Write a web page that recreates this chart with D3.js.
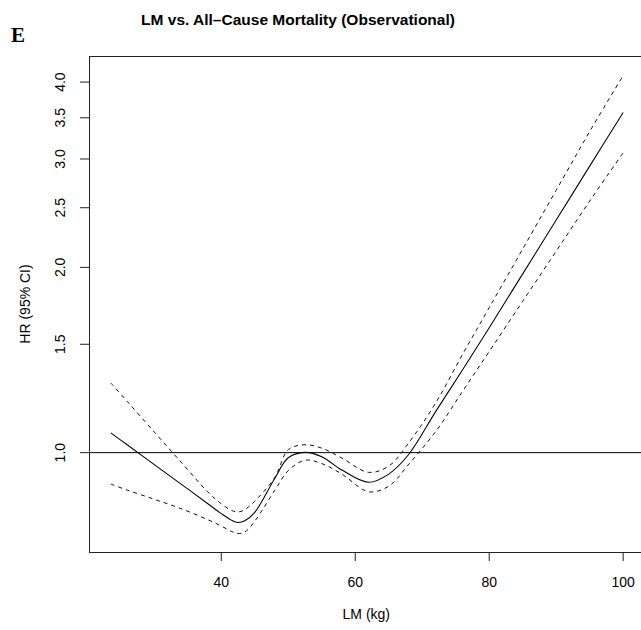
<!DOCTYPE html>
<html>
<head>
<meta charset="utf-8">
<script src="https://cdn.jsdelivr.net/npm/d3@7.9.0/dist/d3.min.js"></script>
<style>
  html, body { margin: 0; padding: 0; background: #fff; }
  svg { display: block; font-family: "Liberation Sans", Arial, sans-serif; }
</style>
</head>
<body>
<div id="chart"></div>
<script>
const lm = [23.5, 26, 30, 34, 38, 40, 41.5, 42.5, 43.5, 45, 48, 50, 52.5, 55, 58, 62, 65, 68, 72, 76, 80, 85, 90, 95, 100];
// hazard ratio estimate
const hr = [1.077, 1.029, 0.956, 0.889, 0.826, 0.796, 0.777, 0.770, 0.775, 0.800, 0.909, 0.981, 1.001, 0.985, 0.937, 0.895, 0.923, 0.994, 1.166, 1.362, 1.596, 1.952, 2.387, 2.921, 3.57];
// 95% CI bounds
const hrUpper = [1.298, 1.210, 1.080, 0.965, 0.863, 0.826, 0.806, 0.801, 0.808, 0.834, 0.912, 1.011, 1.030, 1.017, 0.980, 0.929, 0.951, 1.038, 1.204, 1.443, 1.720, 2.142, 2.669, 3.325, 4.10];
const hrLower = [0.889, 0.869, 0.840, 0.811, 0.778, 0.760, 0.745, 0.739, 0.743, 0.774, 0.869, 0.935, 0.972, 0.960, 0.923, 0.864, 0.882, 0.958, 1.082, 1.257, 1.460, 1.762, 2.125, 2.563, 3.07];

const xTicks = [40, 60, 80, 100];
const yTicks = [1.0, 1.5, 2.0, 2.5, 3.0, 3.5, 4.0];

const width = 641;
const height = 630;

// plot region (right edge runs past the picture)
const box = { left: 89, top: 56, right: 643.6, bottom: 552 };

const x = d3.scaleLinear().domain([20.25, 103.05]).range([box.left, box.right]);
const y = d3.scaleLog().domain([0.6896, 4.41]).range([box.bottom, box.top]);

const svg = d3.select("#chart").append("svg")
  .attr("width", width)
  .attr("height", height);

// reference line at HR = 1
svg.append("line")
  .attr("x1", box.left).attr("x2", box.right)
  .attr("y1", y(1)).attr("y2", y(1))
  .attr("stroke", "#000").attr("stroke-width", 1);

const line = (vals) => d3.line()
  .x((d, i) => x(lm[i]))
  .y((d) => y(d))
  .curve(d3.curveCatmullRom.alpha(0.5))(vals);

svg.append("path")
  .attr("d", line(hrUpper))
  .attr("fill", "none").attr("stroke", "#111")
  .attr("stroke-width", 1).attr("stroke-dasharray", "4,4");

svg.append("path")
  .attr("d", line(hrLower))
  .attr("fill", "none").attr("stroke", "#111")
  .attr("stroke-width", 1).attr("stroke-dasharray", "4,4");

svg.append("path")
  .attr("d", line(hr))
  .attr("fill", "none").attr("stroke", "#000")
  .attr("stroke-width", 1.05);

// box
svg.append("rect")
  .attr("x", box.left + 0.5).attr("y", box.top + 0.5)
  .attr("width", box.right - box.left).attr("height", box.bottom - box.top)
  .attr("fill", "none").attr("stroke", "#222").attr("stroke-width", 1);

// x axis
const gx = svg.append("g").attr("transform", `translate(0,${box.bottom})`);
gx.selectAll("line.tick").data(xTicks).join("line")
  .attr("class", "tick")
  .attr("x1", (d) => x(d)).attr("x2", (d) => x(d))
  .attr("y1", 0).attr("y2", 9)
  .attr("stroke", "#222");
gx.selectAll("text").data(xTicks).join("text")
  .attr("x", (d) => x(d)).attr("y", 35)
  .attr("text-anchor", "middle")
  .attr("font-size", 14)
  .text((d) => d);

// y axis
const gy = svg.append("g").attr("transform", `translate(${box.left},0)`);
gy.selectAll("line.tick").data(yTicks).join("line")
  .attr("class", "tick")
  .attr("x1", -9).attr("x2", 0)
  .attr("y1", (d) => y(d)).attr("y2", (d) => y(d))
  .attr("stroke", "#222");
gy.selectAll("text").data(yTicks).join("text")
  .attr("transform", (d) => `translate(-24,${y(d)}) rotate(-90)`)
  .attr("text-anchor", "middle")
  .attr("font-size", 14)
  .text((d) => d.toFixed(1));

// axis titles
svg.append("text")
  .attr("x", (box.left + box.right) / 2).attr("y", 619)
  .attr("text-anchor", "middle").attr("font-size", 14)
  .text("LM (kg)");

svg.append("text")
  .attr("transform", `translate(30,${(box.top + box.bottom) / 2}) rotate(-90)`)
  .attr("text-anchor", "middle").attr("font-size", 14)
  .text("HR (95% CI)");

// title
svg.append("text")
  .attr("x", 298).attr("y", 25)
  .attr("text-anchor", "middle")
  .attr("font-size", 15.5).attr("font-weight", "bold")
  .text("LM vs. All\u2013Cause Mortality (Observational)");

// panel letter
svg.append("text")
  .attr("x", 11).attr("y", 42)
  .attr("font-family", "'Liberation Serif', 'Times New Roman', serif")
  .attr("font-size", 21).attr("font-weight", "bold")
  .text("E");
</script>
</body>
</html>
